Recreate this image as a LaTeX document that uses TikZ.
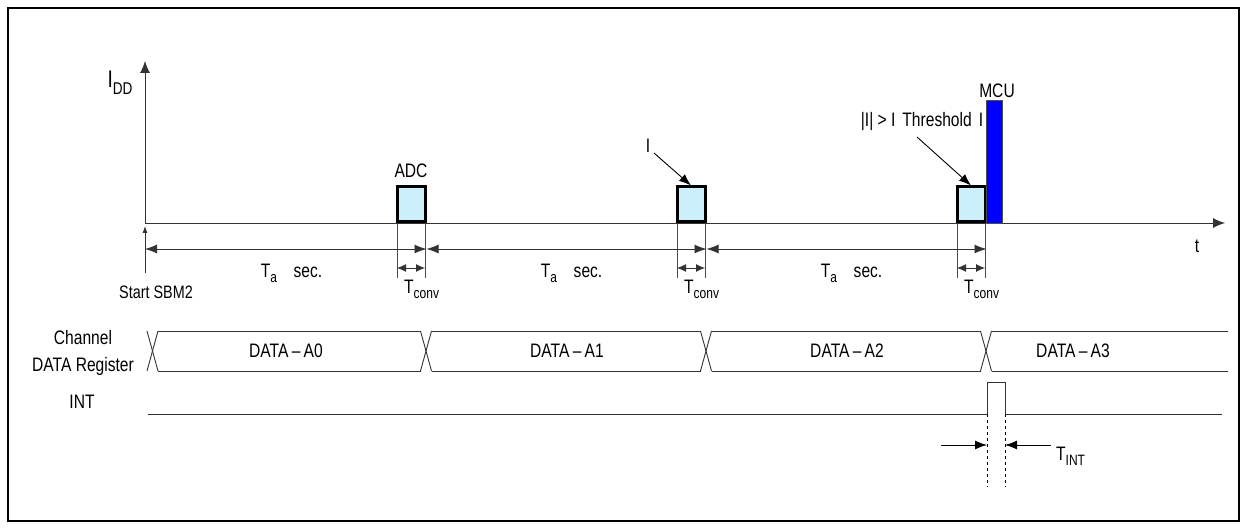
\documentclass[tikz,border=0pt]{standalone}
\usepackage{fontspec}
\setmainfont{Liberation Sans}[FakeStretch=0.8]
\usetikzlibrary{arrows.meta}
\newcommand{\lowsub}[1]{\raisebox{-0.25em}{\fontsize{15}{15}\selectfont #1}}
\begin{document}
\begin{tikzpicture}[x=1pt,y=-1pt,
  font=\fontsize{19.5}{19.5}\selectfont,
  lbl/.style={inner sep=0pt},
  ln/.style={draw=black!80,line width=0.9pt},
  axis/.style={ln,-{Latex[length=12pt,width=10pt]}},
  tarrow/.style={ln,{Latex[length=12pt,width=9pt]}-{Latex[length=12pt,width=9pt]}},
  carrow/.style={ln,{Latex[length=9pt,width=8pt]}-{Latex[length=9pt,width=8pt]}},
  ptr/.style={draw=black,line width=0.9pt,-{Latex[length=12pt,width=9pt]}},
  adcbox/.style={draw=black,line width=3pt,fill=cyan!20,minimum width=28pt,minimum height=35pt,inner sep=0pt},
  mcubox/.style={draw=black!70,line width=0.6pt,fill=blue,minimum width=16pt,minimum height=123pt,inner sep=0pt},
  guide/.style={draw=black!70,line width=0.7pt},
  dashln/.style={draw=black,line width=0.9pt,dashed}
]
\useasboundingbox (0,0) rectangle (1247,529);
\fill[white] (0,0) rectangle (1247,529);
\draw[line width=1.5pt] (8,8) rectangle (1239,521);

% axes
\coordinate (o) at (145,223);
\coordinate (ytop) at (145,61);
\coordinate (xend) at (1225,223);
\draw[axis] (o) -- (ytop);
\draw[axis] (o) -- (xend);
\node[lbl] (idd) at (120,83) {\fontsize{24}{24}\selectfont I\raisebox{-0.3em}{\fontsize{17}{17}\selectfont DD}};
\node[lbl] (tlab) at (1197,246) {t};

% start marker
\coordinate (sb) at (145,273);
\coordinate (st) at (145,226);
\draw[ln,-{Latex[length=7pt,width=5pt]}] (sb) -- (st);
\node[lbl] (start) at (156,292) {\fontsize{18}{18}\selectfont Start SBM2};

% ADC boxes
\node[adcbox] (adc1) at (411,204.5) {};
\node[adcbox] (adc2) at (691,204.5) {};
\node[adcbox] (adc3) at (971,204.5) {};
\node[mcubox] (mcu) at (994,161.5) {};
\node[lbl] (mculab) at (997,91) {MCU};
\node[lbl] (adclab) at (411,171) {ADC};

% guide lines
\foreach \b in {adc1,adc2,adc3}{
  \draw[guide] (\b.south west) ++(1.5pt,0) -- ++(0,55);
  \draw[guide] (\b.south east) ++(-1.5pt,0) -- ++(0,55);
}

% Ta arrows
\coordinate (s0) at (145,249);
\draw[tarrow] (s0) -- (s0 -| adc1.south east);
\draw[tarrow] (s0 -| adc1.south east) -- (s0 -| adc2.south east);
\draw[tarrow] (s0 -| adc2.south east) -- (s0 -| adc3.south east);

% Tconv arrows
\coordinate (c0) at (0,268);
\foreach \b in {adc1,adc2,adc3}{
  \draw[carrow] ([xshift=1.5pt]c0 -| \b.south west) -- ([xshift=-1.5pt]c0 -| \b.south east);
}

% labels Ta / Tconv
\foreach \dx/\n in {0/1,280/2,560/3}{
  \node[lbl] (ta\n) at (269+\dx,273) {T\lowsub{a}};
  \node[lbl] (sec\n) at (308+\dx,272) {sec.};
  \node[lbl,anchor=west] (tc\n) at (404+\dx,289) {T\lowsub{conv}};
}

% pointer labels
\node[lbl] (ilab) at (648,146) {I};
\coordinate (ia) at (654,153);
\draw[ptr] (ia) -- (adc2.north);
\node[lbl] (thr) at (922,122) {|I| > I\hspace{7pt}Threshold\hspace{7pt}I};
\coordinate (tha) at (917,137);
\draw[ptr] (tha) -- (adc3.north);

% data register
\node[lbl,align=center,font=\fontsize{19.5}{27}\selectfont] (reglab) at (83,353) {Channel\\DATA Register};
\foreach \xa/\xb in {147/158,420.5/431.5,700.5/711.5,980.5/991.5}{
  \draw[ln] (\xa,331) -- (\xb,371);
  \draw[ln] (\xa,371) -- (\xb,331);
}
\foreach \xa/\xb in {158/420.5,431.5/700.5,711.5/980.5,991.5/1228}{
  \draw[ln] (\xa,331) -- (\xb,331);
  \draw[ln] (\xa,371) -- (\xb,371);
}
\node[lbl] (d0) at (286,351) {DATA\,–\,A0};
\node[lbl] (d1) at (567,351) {DATA\,–\,A1};
\node[lbl] (d2) at (847,351) {DATA\,–\,A2};
\node[lbl] (d3) at (1073,351) {DATA\,–\,A3};

% INT
\node[lbl] (intlab) at (82,402) {INT};
\coordinate (i0) at (148,414);
\coordinate (p1) at (987,414);
\coordinate (p2) at (1005,414);
\coordinate (i1) at (1222,414);
\draw[ln] (i0) -- (p1) -- ++(0,-32) -| (p2) -- (i1);
\draw[dashln] (p1) -- ++(0,73);
\draw[dashln] (p2) -- ++(0,73);
\coordinate (ta) at (941,445);
\coordinate (tb) at (1051,445);
\draw[ptr] (ta) -- (ta -| p1);
\draw[ptr] (tb) -- (tb -| p2);
\node[lbl,anchor=west] (tint) at (1056,456) {T\lowsub{INT}};
\end{tikzpicture}
\end{document}
